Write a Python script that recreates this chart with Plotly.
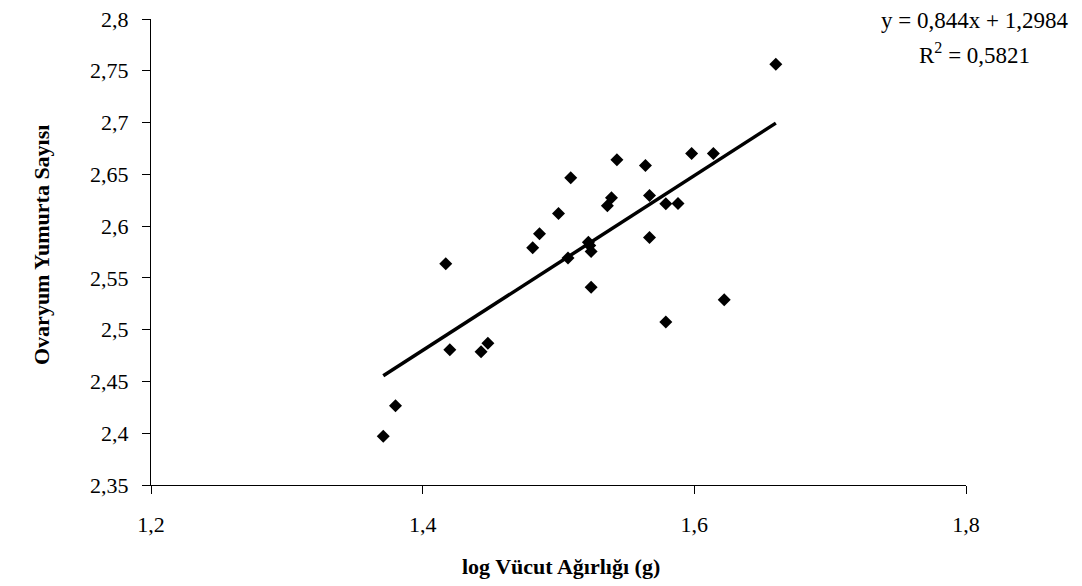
import plotly.graph_objects as go

# Data
log_body_weight = [1.371, 1.380, 1.417, 1.420, 1.443, 1.448, 1.481, 1.486, 1.500, 1.509,
                   1.507, 1.522, 1.523, 1.524, 1.524, 1.536, 1.539, 1.543, 1.564, 1.567,
                   1.567, 1.579, 1.588, 1.579, 1.598, 1.614, 1.622, 1.660]
ovary_egg_count = [2.397, 2.4265, 2.5636, 2.4807, 2.4787, 2.4868, 2.5791, 2.5926, 2.6122, 2.6468,
                   2.5692, 2.5845, 2.5813, 2.5755, 2.5409, 2.6197, 2.6274, 2.6642, 2.6585, 2.6296,
                   2.5890, 2.6216, 2.6219, 2.5074, 2.6700, 2.6700, 2.5288, 2.7564]

slope = 0.844
intercept = 1.2984
r_squared = 0.5821

x_ticks = [1.2, 1.4, 1.6, 1.8]
y_ticks = [2.35, 2.4, 2.45, 2.5, 2.55, 2.6, 2.65, 2.7, 2.75, 2.8]

x_min, x_max = min(log_body_weight), max(log_body_weight)
trend_x = [x_min, x_max]
trend_y = [slope * v + intercept for v in trend_x]

font_family = "Liberation Serif, Times New Roman, serif"

# plot area in page pixels (page has an 8px body margin)
PL, PR, PT, PB = 151, 966, 19, 485
PW, PH = PR - PL, PB - PT


def px(xp):
    return (xp - PL) / PW


def py(yp):
    return (PB - yp) / PH


fig = go.Figure()
fig.add_trace(go.Scatter(x=trend_x, y=trend_y, mode="lines",
                         line=dict(color="black", width=3.5), hoverinfo="skip",
                         showlegend=False))
fig.add_trace(go.Scatter(x=log_body_weight, y=ovary_egg_count, mode="markers",
                         marker=dict(symbol="diamond", size=10, color="black"),
                         showlegend=False))

fig.update_layout(
    width=1082, height=586,
    margin=dict(l=PL - 8, r=1082 - (PR - 8), t=PT - 8, b=586 - (PB - 8)),
    paper_bgcolor="white", plot_bgcolor="white",
    separators=", ",
    font=dict(family=font_family, size=22, color="black"),
    xaxis=dict(range=[1.2, 1.8], tickvals=x_ticks, automargin=False,
               ticktext=[f"{v:.1f}".replace(".", ",") for v in x_ticks],
               showgrid=False, zeroline=False, showline=True, linecolor="black", linewidth=1,
               ticks="outside", ticklen=8, tickcolor="black", ticklabelstandoff=12,
               ticklabeloverflow="allow", tickfont=dict(size=22)),
    yaxis=dict(range=[2.35, 2.8], tickvals=y_ticks, automargin=False,
               ticktext=[("%g" % v).replace(".", ",") for v in y_ticks],
               showgrid=False, zeroline=False, showline=True, linecolor="black", linewidth=1,
               ticks="outside", ticklen=8, tickcolor="black", ticklabelstandoff=9,
               ticklabeloverflow="allow", tickfont=dict(size=22)),
    annotations=[
        dict(text="<b>log Vücut Ağırlığı (g)</b>", xref="paper", yref="paper",
             x=px(560.5), y=py(566), xanchor="center", yanchor="middle",
             showarrow=False, font=dict(size=22)),
        dict(text="<b>Ovaryum Yumurta Sayısı</b>", xref="paper", yref="paper",
             x=px(41), y=py(245), xanchor="center", yanchor="middle",
             textangle=-90, showarrow=False, font=dict(size=22)),
        dict(text=f"y = {slope:.3f}x + {intercept:.4f}".replace(".", ","), xref="paper", yref="paper",
             x=px(974), y=py(21), xanchor="center", yanchor="middle",
             showarrow=False, font=dict(size=23)),
        dict(text=f"R<sup>2</sup> = {r_squared:.4f}".replace(".", ","), xref="paper", yref="paper",
             x=px(974), y=py(53), xanchor="center", yanchor="middle",
             showarrow=False, font=dict(size=23)),
    ],
)

fig.write_html("out.html")
